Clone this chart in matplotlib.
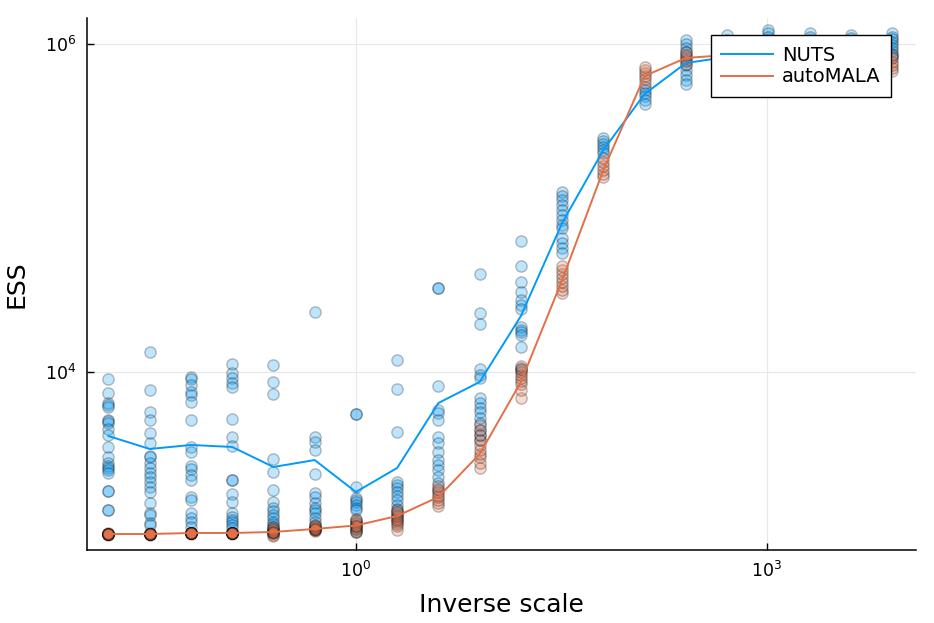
import matplotlib
matplotlib.use("Agg")
import matplotlib.pyplot as plt
from matplotlib.colors import to_rgba

plt.rcParams['font.family'] = ['DejaVu Sans']

# Inverse scale values (x positions of the columns)
inv_scale = [0.015625, 0.03125, 0.0625, 0.125, 0.25, 0.5, 1, 2, 4, 8,
             16, 32, 64, 128, 256, 512, 1024, 2048, 4096, 8192]

# NUTS replicate ESS values per column
nuts_pts = [
    [9060, 7450, 6470, 6290, 6120, 5100, 5030, 4890, 4490, 4130, 3490, 3030, 2790, 2670, 2600, 2530, 2420, 1880, 1880, 1440, 1440],
    [13240, 7770, 5700, 5100, 4250, 3690, 3075, 3030, 2790, 2600, 2420, 2290, 2135, 1990, 1855, 1590, 1380, 1343, 1200, 1167],
    [9320, 9060, 8330, 7560, 7240, 6570, 5100, 3490, 3250, 2670, 2570, 2355, 2195, 1730, 1658, 1380, 1290, 1220, 1135],
    [11190, 9860, 9190, 8570, 8100, 5170, 4010, 3540, 2195, 2195, 1800, 1610, 1380, 1310, 1252, 1220, 1167, 1120],
    [11030, 8690, 7340, 2950, 2460, 1908, 1610, 1480, 1420, 1343, 1290, 1220, 1185, 1135, 1105],
    [23220, 4010, 3740, 3345, 2390, 1830, 1730, 1590, 1480, 1440, 1380, 1290, 1220, 1150],
    [5545, 5545, 1990, 1705, 1658, 1610, 1545, 1480, 1440, 1252, 1200, 1150, 1105, 1060],
    [11830, 7880, 4310, 2135, 2045, 1960, 1855, 1755, 1658, 1545, 1460, 1400, 1325, 1252],
    [32510, 32510, 8220, 5865, 5630, 5100, 4010, 3690, 3250, 2905, 2710, 2525, 2290, 2100, 1908],
    [39590, 22910, 19630, 10430, 9590, 9190, 6940, 6470, 6030, 5700, 5240, 4890, 4430, 4130, 3850],
    [62900, 44290, 35370, 30740, 27480, 25620, 24220, 18800, 18040, 17550, 16810, 14170, 10580, 10290],
    [125200, 118400, 111900, 104300, 97200, 90600, 84500, 78800, 75500, 65600, 61100, 57000, 53100],
    [267200, 256200, 245600, 235500, 225800, 216500],
    [546600, 524000, 502400, 481700, 455600, 431000],
    [1058000, 1000000, 944000, 893000, 845000, 799000, 745000, 694000, 647000, 603000, 570000],
    [1135000, 1058000, 986000, 919000, 857000, 799000],
    [1217000, 1160000, 1110000, 1058000, 986000, 919000, 857000],
    [1160000, 1110000, 1058000, 986000, 919000, 857000],
    [1135000, 1085000, 1030000, 970000, 919000, 857000],
    [1160000, 1110000, 1070000, 1029000, 986000, 945000, 906000, 872000, 835000],
]

# autoMALA replicate ESS values per column
automala_pts = [
    [1020, 1024, 1026, 1028, 1028, 1030, 1031, 1032, 1034, 1036, 1025, 1029],
    [1020, 1024, 1026, 1028, 1028, 1030, 1031, 1032, 1034, 1036, 1025, 1029],
    [1035, 1038, 1040, 1043, 1043, 1045, 1047, 1050, 1041, 1044, 1039, 1046],
    [1035, 1038, 1040, 1043, 1043, 1045, 1047, 1050, 1041, 1044, 1039, 1046],
    [1000, 1020, 1040, 1058, 1058, 1070, 1090, 1110, 1130, 1050, 1065],
    [1075, 1085, 1095, 1104, 1104, 1115, 1130, 1150, 1167, 1100],
    [1060, 1075, 1105, 1135, 1167, 1200, 1235, 1275, 1150],
    [1088, 1150, 1185, 1220, 1252, 1290, 1325, 1360, 1400, 1440],
    [1520, 1590, 1658, 1730, 1780, 1855, 1930, 2020],
    [2600, 2790, 3030, 3180, 3345, 3590, 3850, 4130, 4430, 4750],
    [6940, 7770, 8450, 8810, 9190, 9590, 10000, 10430, 10880],
    [30320, 31620, 33440, 35370, 37430, 39590, 41880, 44290],
    [154700, 161200, 170500, 180300, 190700, 201800],
    [579000, 612000, 638000, 664000, 694000, 724000],
    [756000, 788000, 822000, 857000, 893000],
    [800000, 840000, 880000, 919000],
    [820000, 850000, 880000, 919000],
    [800000, 835000, 870000, 900000],
    [800000, 830000, 865000, 895000],
    [683000, 710000, 745000, 780000, 820000, 857000],
]

# Summary lines
nuts_line = [4070, 3393, 3590, 3490, 2635, 2905, 1855, 2600, 6470, 8690,
             21950, 81000, 225800, 495500, 765600, 833000, 919000, 919000, 931000, 944000]
automala_line = [1028, 1028, 1043, 1043, 1058, 1104, 1159, 1324, 1730, 3160,
                 8690, 36390, 170500, 638000, 822000, 857000, 870000, 857000, 845000, 799000]

series_names = ['NUTS', 'autoMALA']
NUTS_C = '#009AFA'
AUTO_C = '#E36F47'

W, H = 934, 623
fig = plt.figure(figsize=(W / 100, H / 100), dpi=100)
ax = fig.add_axes([87 / W, 1 - 550 / H, (916 - 87) / W, (550 - 18) / H])


def flat(xs, cols):
    xx, yy = [], []
    for xv, col in zip(xs, cols):
        xx += [xv] * len(col)
        yy += col
    return xx, yy


for pts, c in [(nuts_pts, NUTS_C), (automala_pts, AUTO_C)]:
    xx, yy = flat(inv_scale, pts)
    ax.scatter(xx, yy, s=66, facecolor=to_rgba(c, 0.25),
               edgecolor=(0, 0, 0, 0.25), linewidth=1.0, zorder=2)

ax.plot(inv_scale, nuts_line, color=NUTS_C, lw=1.4, label=series_names[0], zorder=3)
ax.plot(inv_scale, automala_line, color=AUTO_C, lw=1.4, label=series_names[1], zorder=3)

ax.set_xscale('log')
ax.set_yscale('log')
ax.set_xlim(10 ** -1.963, 10 ** 4.088)
ax.set_ylim(10 ** 2.9146, 10 ** 6.1585)
ax.set_xticks([1, 1000])
ax.set_yticks([1e4, 1e6])
ax.minorticks_off()
ax.grid(True, color='#e8e8e8', lw=0.9, zorder=0)
ax.set_axisbelow(True)

for s in ['top', 'right']:
    ax.spines[s].set_visible(False)
for s in ['left', 'bottom']:
    ax.spines[s].set_linewidth(1.1)

ax.tick_params(axis='both', which='major', direction='in', length=5, width=1.0,
               labelsize=12.5, pad=8)

ax.set_xlabel('Inverse scale', fontsize=18)
ax.set_ylabel('ESS', fontsize=18)
ax.xaxis.set_label_coords(0.5, -0.081)
ax.yaxis.set_label_coords(-0.071, 0.5)

leg = ax.legend(loc='upper right', bbox_to_anchor=((891 - 87) / 829, (550 - 35) / 532),
                borderaxespad=0, fontsize=14, frameon=True, fancybox=False,
                handlelength=2.65, handletextpad=0.45, borderpad=0.55, labelspacing=0.14)
leg.get_frame().set_edgecolor('black')
leg.get_frame().set_linewidth(1.0)
leg.get_frame().set_alpha(1)
leg.set_zorder(10)

fig.savefig('out.png', dpi=100)
